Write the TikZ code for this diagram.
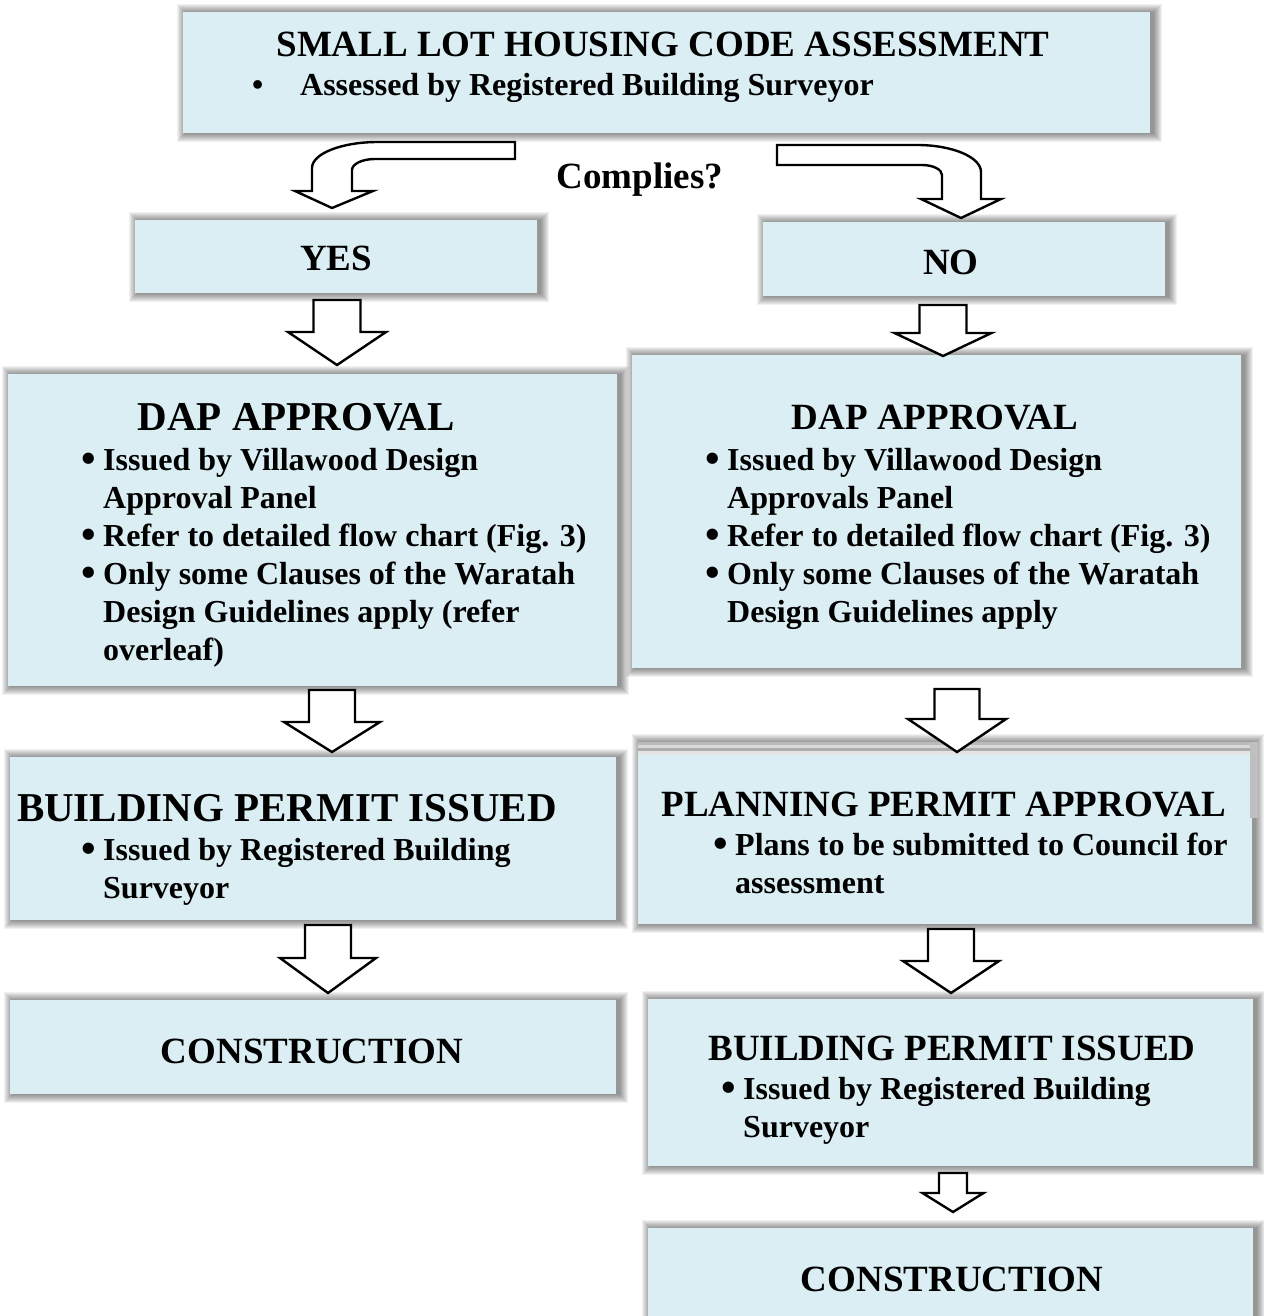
\documentclass[tikz,border=0pt]{standalone}
\usepackage{fontspec}
\setmainfont{Liberation Serif}
\definecolor{boxblue}{HTML}{DAEEF3}
\newcommand\hdfont{\fontsize{37}{44}\selectfont\bfseries}
\newcommand\hdLfont{\fontsize{41}{48}\selectfont\bfseries}
\newcommand\blfont{\fontsize{32}{38}\selectfont\bfseries}
\newcommand\bul[1]{\makebox[#1pt][l]{\smash{\raisebox{-2pt}{\scalebox{1.3}{•}}}}}
\newcommand\shbox[5]{%
  \foreach \i in {1,...,9}{\fill[black,opacity=0.055] ({#2-\i+3},{#3-\i+1}) rectangle ({#4+\i+3},{#5+\i});}
  \node[box, minimum width={#4-#2}, minimum height={#5-#3}] (#1) at (#2,#3) {};
}
\tikzset{
  box/.style={fill=boxblue, draw=none, inner sep=0, outer sep=0, anchor=north west},
  blk/.style={draw=black, line width=2.4pt, fill=white, line join=miter},
  hd/.style={inner sep=0, anchor=base, font=\hdfont},
  hdL/.style={inner sep=0, anchor=base, font=\hdLfont},
  bl/.style={inner sep=0, anchor=base west, font=\blfont},
  pics/barrow/.style n args={4}{code={\draw[blk] (-#1,0) -- (-#1,#2) -- (-#3,#2) -- (0,#4) -- (#3,#2) -- (#1,#2) -- (#1,0) -- cycle;}},
}
\begin{document}
\begin{tikzpicture}[x=1pt,y=-1pt]
\fill[white] (0,0) rectangle (1263,1316);
\useasboundingbox (0,0) rectangle (1263,1316);

% boxes
\shbox{top}{183}{12}{1150}{133}
\shbox{yes}{135}{220}{537}{293}
\shbox{no}{763}{222}{1165}{296}
\shbox{dapL}{8}{374}{617}{686}
\shbox{dapR}{632}{355}{1241}{668}
\shbox{bpL}{10}{757}{616}{920}
\shbox{ppa}{638}{742}{1252}{924}
\shbox{conL}{10}{1000}{616}{1094}
\shbox{bpR}{648}{999}{1253}{1166}
\shbox{conR}{648}{1228}{1253}{1330}

% planning permit top band
\fill[gray!55] (638,742) rectangle (1258,745);
\fill[gray!30] (638,745) rectangle (1258,748);
\fill[gray!65] (638,748) rectangle (1258,751);
\fill[gray!20] (638,751) rectangle (1258,755);
\fill[gray!50] (1250,742) rectangle (1258,818);

% curved arrows
\draw[blk] (515,142) -- (378,142) .. controls (341.6,142) and (312,153.6) .. (312,168)
  -- (312,191) -- (295,191) -- (332,208) -- (373,191) -- (352,191) -- (352,170)
  .. controls (352,163.9) and (362.3,159) .. (375,159) -- (515,159) -- cycle;
\draw[blk] (777,145) -- (917,145) .. controls (952.3,145) and (981,157.1) .. (981,172)
  -- (981,199) -- (1001,199) -- (961,218) -- (921,199) -- (942,199) -- (942,175)
  .. controls (942,169.5) and (933,165) .. (922,165) -- (777,165) -- cycle;

% straight block arrows
\pic at (337,300) {barrow={23.5}{32}{49}{65}};
\pic at (943,305) {barrow={23.5}{28}{48.5}{51}};
\pic at (332,690) {barrow={23}{32}{48}{62}};
\pic at (957,689) {barrow={22.5}{30}{49}{63}};
\pic at (328,925) {barrow={23}{33}{48}{68}};
\pic at (951,929) {barrow={23}{32}{48}{64}};
\pic at (953,1173) {barrow={14}{20}{30.5}{39}};

% texts
\node[hd] (tTitle) at (663,57) {SMALL LOT HOUSING CODE ASSESSMENT};
\node[bl] (tB1) at (252,96) {\makebox[48pt][l]{•}Assessed by Registered Building Surveyor};
\node[hd] (tQ) at (640,189) {Complies?};
\node[hd] (tYes) at (336,270) {YES};
\node[hd] (tNo) at (951,274) {NO};

\node[hdL] (dLh) at (296,430) {DAP APPROVAL};
\node[bl] (dL1) at (81,470) {\bul{22}Issued by Villawood Design};
\node[bl] (dL2) at (103,508) {Approval Panel};
\node[bl] (dL3) at (81,546) {\bul{22}Refer to detailed flow chart (Fig. 3)};
\node[bl] (dL4) at (81,584) {\bul{22}Only some Clauses of the Waratah};
\node[bl] (dL5) at (103,622) {Design Guidelines apply (refer};
\node[bl] (dL6) at (103,660) {overleaf)};

\node[hd] (dRh) at (935,429) {DAP APPROVAL};
\node[bl] (dR1) at (705,470) {\bul{22}Issued by Villawood Design};
\node[bl] (dR2) at (727,508) {Approvals Panel};
\node[bl] (dR3) at (705,546) {\bul{22}Refer to detailed flow chart (Fig. 3)};
\node[bl] (dR4) at (705,584) {\bul{22}Only some Clauses of the Waratah};
\node[bl] (dR5) at (727,622) {Design Guidelines apply};

\node[hdL] (bLh) at (287,821) {BUILDING PERMIT ISSUED};
\node[bl] (bL1) at (81,860) {\bul{22}Issued by Registered Building};
\node[bl] (bL2) at (103,898) {Surveyor};

\node[hd] (pRh) at (944,816) {PLANNING PERMIT APPROVAL};
\node[bl] (pR1) at (713,855) {\bul{22}Plans to be submitted to Council for};
\node[bl] (pR2) at (735,893) {assessment};

\node[hd] (cL) at (312,1063) {CONSTRUCTION};

\node[hd] (bRh) at (952,1060) {BUILDING PERMIT ISSUED};
\node[bl] (bR1) at (721,1099) {\bul{22}Issued by Registered Building};
\node[bl] (bR2) at (743,1137) {Surveyor};

\node[hd] (cR) at (952,1291) {CONSTRUCTION};
\end{tikzpicture}
\end{document}
